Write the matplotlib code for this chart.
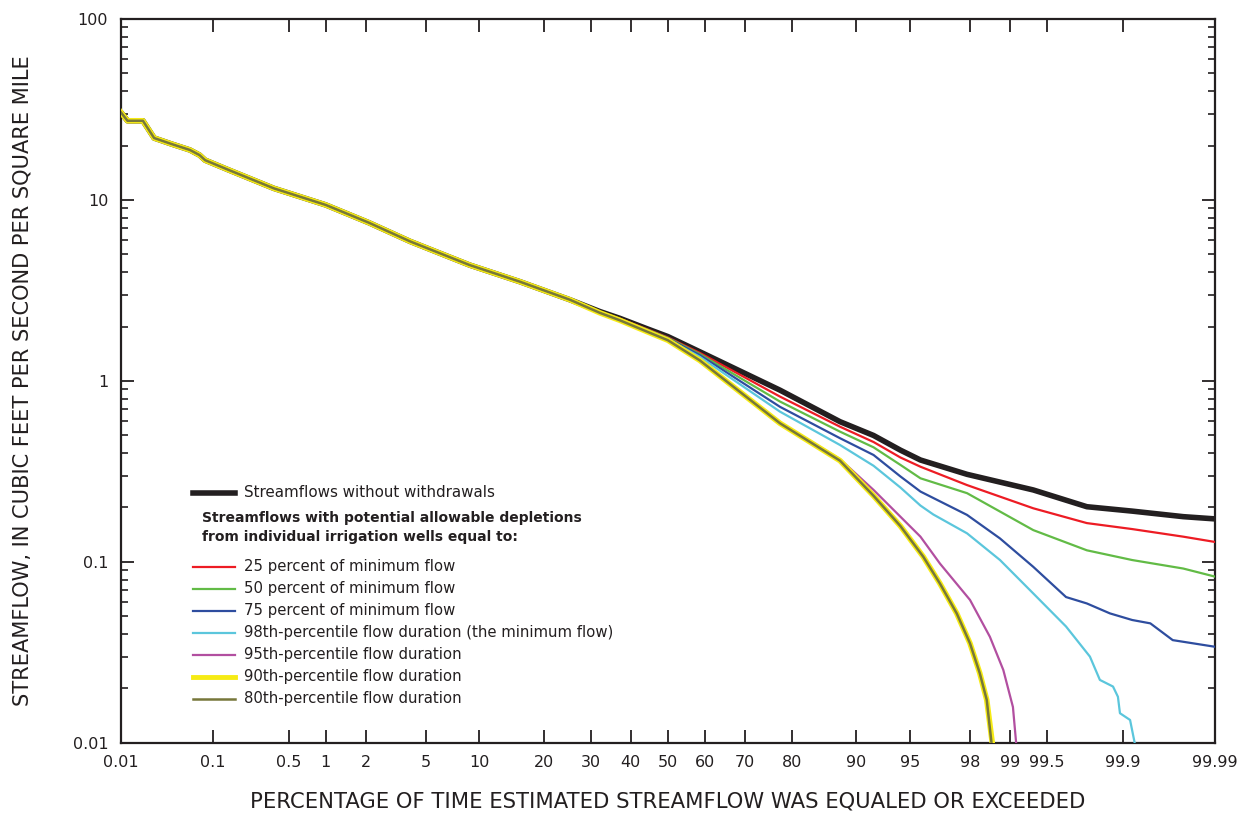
import numpy as np
import matplotlib
matplotlib.use('Agg')
import matplotlib.pyplot as plt
from matplotlib.lines import Line2D
from matplotlib.ticker import FixedLocator, NullLocator, LogLocator, NullFormatter
from statistics import NormalDist

plt.rcParams['font.family'] = ['DejaVu Sans']

# percent of time exceeded / streamflow (cfs per sq mi)
base_pct = [0.01, 0.012, 0.018, 0.024, 0.037, 0.058, 0.073, 0.083, 0.14, 0.37, 1.0,
            2.1, 4.0, 8.9, 15.7, 25.3, 32.2, 37.2, 44.2,
            50, 58.6, 77.7, 87.9, 91.9, 94.3, 95.7, 97.9, 99.35, 99.78, 99.92, 99.977, 99.99]
base_flow = [30.6, 27.4, 27.4, 22.0, 20.4, 18.9, 17.7, 16.6, 14.7, 11.6, 9.4,
             7.5, 5.9, 4.37, 3.54, 2.81, 2.42, 2.22, 1.95,
             1.76, 1.45, 0.89, 0.596, 0.50, 0.415, 0.366, 0.305, 0.25, 0.202, 0.191, 0.178, 0.173]

# depleted curves follow the base curve up to about 25 percent
n_shared = 16

tail_pct = [32.2, 37.2, 44.2, 50, 58.6, 77.7, 87.9, 91.9, 94.3, 95.7, 97.9, 99.35, 99.78, 99.92, 99.977, 99.99]
red_flow = [2.41, 2.21, 1.94, 1.74, 1.43, 0.82, 0.559, 0.46, 0.378, 0.336, 0.266, 0.198, 0.164, 0.152, 0.138, 0.129]
green_flow = [2.40, 2.20, 1.93, 1.73, 1.41, 0.77, 0.525, 0.43, 0.344, 0.29, 0.24, 0.15, 0.116, 0.1025, 0.092, 0.083]

blue_pct = [32.2, 37.2, 44.2, 50, 58.6, 77.7, 87.9, 91.9, 94.3, 95.7, 97.9, 98.8, 99.35, 99.66, 99.78,
            99.867, 99.92, 99.948, 99.97, 99.99]
blue_flow = [2.39, 2.19, 1.92, 1.72, 1.39, 0.72, 0.483, 0.39, 0.297, 0.245, 0.182, 0.135, 0.094, 0.064, 0.059,
             0.052, 0.0478, 0.0458, 0.037, 0.034]

cyan_pct = [32.2, 37.2, 44.2, 50, 58.6, 77.7, 87.9, 91.9, 94.3, 95.7, 96.44, 97.9, 98.8, 99.35, 99.66,
            99.794, 99.834, 99.876, 99.889, 99.894, 99.916, 99.926]
cyan_flow = [2.39, 2.18, 1.91, 1.70, 1.36, 0.677, 0.443, 0.34, 0.258, 0.205, 0.183, 0.144, 0.1026, 0.067, 0.044,
             0.030, 0.0223, 0.0205, 0.018, 0.0146, 0.0134, 0.0095]

purple_pct = [32.2, 37.2, 44.2, 50, 58.6, 77.7, 87.9, 91.9, 94.3, 95.7, 96.78, 98.0, 98.57, 98.87, 99.05, 99.11]
purple_flow = [2.38, 2.165, 1.88, 1.68, 1.30, 0.59, 0.37, 0.25, 0.178, 0.138, 0.098, 0.0617, 0.0386, 0.0253,
               0.0158, 0.0095]

p90_pct = [32.2, 37.2, 44.2, 50, 58.6, 77.7, 87.9, 91.9, 94.3, 95.87, 96.78, 97.52, 98.0, 98.3, 98.49, 98.64]
p90_flow = [2.38, 2.165, 1.88, 1.68, 1.30, 0.584, 0.363, 0.232, 0.158, 0.107, 0.076, 0.052, 0.0355, 0.0243,
            0.0173, 0.0095]
p80_pct = [32.2, 37.2, 44.2, 50, 58.6, 77.7, 87.9, 91.9, 94.3, 95.87, 96.78, 97.52, 98.0, 98.3, 98.49, 98.62]
p80_flow = [2.38, 2.165, 1.88, 1.68, 1.30, 0.584, 0.363, 0.232, 0.158, 0.107, 0.076, 0.052, 0.0355, 0.0243,
            0.0173, 0.0095]

x_ticks = [0.01, 0.1, 0.5, 1, 2, 5, 10, 20, 30, 40, 50, 60, 70, 80, 90, 95, 98, 99, 99.5, 99.9, 99.99]
x_labels = ['0.01', '0.1', '0.5', '1', '2', '5', '10', '20', '30', '40', '50', '60', '70', '80',
            '90', '95', '98', '99', '99.5', '99.9', '99.99']
y_ticks = [0.01, 0.1, 1, 10, 100]
y_labels = ['0.01', '0.1', '1', '10', '100']

# normal probability scale for the x axis
nd = NormalDist()
_ppf = np.vectorize(lambda v: nd.inv_cdf(min(max(v, 1e-7), 100 - 1e-7) / 100.0), otypes=[float])
_cdf = np.vectorize(lambda v: nd.cdf(v) * 100.0, otypes=[float])


def forward(p):
    return _ppf(np.asarray(p, dtype=float))


def inverse(z):
    return _cdf(np.asarray(z, dtype=float))


def curve(pct, flow):
    return list(base_pct[:n_shared]) + list(pct), list(base_flow[:n_shared]) + list(flow)


fig = plt.figure(figsize=(12.44, 8.16), dpi=100)
ax = fig.add_axes([0.097, 0.0895, 0.8797, 0.8872])
ax.set_xscale('function', functions=(forward, inverse))
ax.set_yscale('log')
ax.set_xlim(0.01, 99.99)
ax.set_ylim(0.01, 100)

black = '#231f20'
styles = [
    ('25 percent of minimum flow', '#ed1c24', 1.6, tail_pct, red_flow),
    ('50 percent of minimum flow', '#62bb46', 1.6, tail_pct, green_flow),
    ('75 percent of minimum flow', '#2e4d9f', 1.6, blue_pct, blue_flow),
    ('98th-percentile flow duration (the minimum flow)', '#5bc6dc', 1.6, cyan_pct, cyan_flow),
    ('95th-percentile flow duration', '#b24fa0', 1.6, purple_pct, purple_flow),
    ('90th-percentile flow duration', '#f6eb14', 4.0, p90_pct, p90_flow),
    ('80th-percentile flow duration', '#77773a', 1.8, p80_pct, p80_flow),
]

ax.plot(base_pct, base_flow, color=black, lw=4.0, solid_capstyle='butt', zorder=2)
for i, (lab, col, lw, pct, flow) in enumerate(styles):
    xs, ys = curve(pct, flow)
    ax.plot(xs, ys, color=col, lw=lw, zorder=3 + i)

# ticks
ax.xaxis.set_major_locator(FixedLocator(x_ticks))
ax.xaxis.set_minor_locator(NullLocator())
ax.set_xticklabels(x_labels)
ax.yaxis.set_major_locator(FixedLocator(y_ticks))
ax.set_yticklabels(y_labels)
ax.yaxis.set_minor_locator(LogLocator(base=10, subs=np.arange(2, 10)))
ax.yaxis.set_minor_formatter(NullFormatter())
ax.tick_params(axis='both', which='major', direction='in', length=9.5, width=1.3,
               top=True, right=True, labelsize=11.5, color=black, labelcolor=black)
ax.tick_params(axis='x', which='major', pad=9)
ax.tick_params(axis='y', which='major', pad=9)
ax.tick_params(axis='y', which='minor', direction='in', length=5, width=1.2,
               left=True, right=True, color=black)
for s in ax.spines.values():
    s.set_linewidth(1.6)
    s.set_color(black)

ax.set_xlabel('PERCENTAGE OF TIME ESTIMATED STREAMFLOW WAS EQUALED OR EXCEEDED',
              fontsize=15.2, color=black, labelpad=15)
ax.set_ylabel('STREAMFLOW, IN CUBIC FEET PER SECOND PER SQUARE MILE',
              fontsize=15.1, color=black, labelpad=29)

# legend, drawn by hand to keep the bold header in the middle
kx0, kx1, tx = 0.0661, 0.1045, 0.1128
ax.add_line(Line2D([kx0, kx1], [0.3453, 0.3453], transform=ax.transAxes, color=black, lw=4.0))
ax.text(tx, 0.3453, 'Streamflows without withdrawals', transform=ax.transAxes,
        fontsize=10.9, va='center', color=black)
ax.text(0.0745, 0.2975, 'Streamflows with potential allowable depletions\nfrom individual irrigation wells equal to:',
        transform=ax.transAxes, fontsize=10, fontweight='bold', va='center', color=black,
        linespacing=1.45)
y0, dy = 0.2431, 0.0303
for i, (lab, col, lw, pct, flow) in enumerate(styles):
    yy = y0 - i * dy
    ax.add_line(Line2D([kx0, kx1], [yy, yy], transform=ax.transAxes, color=col,
                       lw=min(lw, 3.5)))
    ax.text(tx, yy, lab, transform=ax.transAxes, fontsize=10.7, va='center', color=black)

fig.savefig('out.png', dpi=100)
